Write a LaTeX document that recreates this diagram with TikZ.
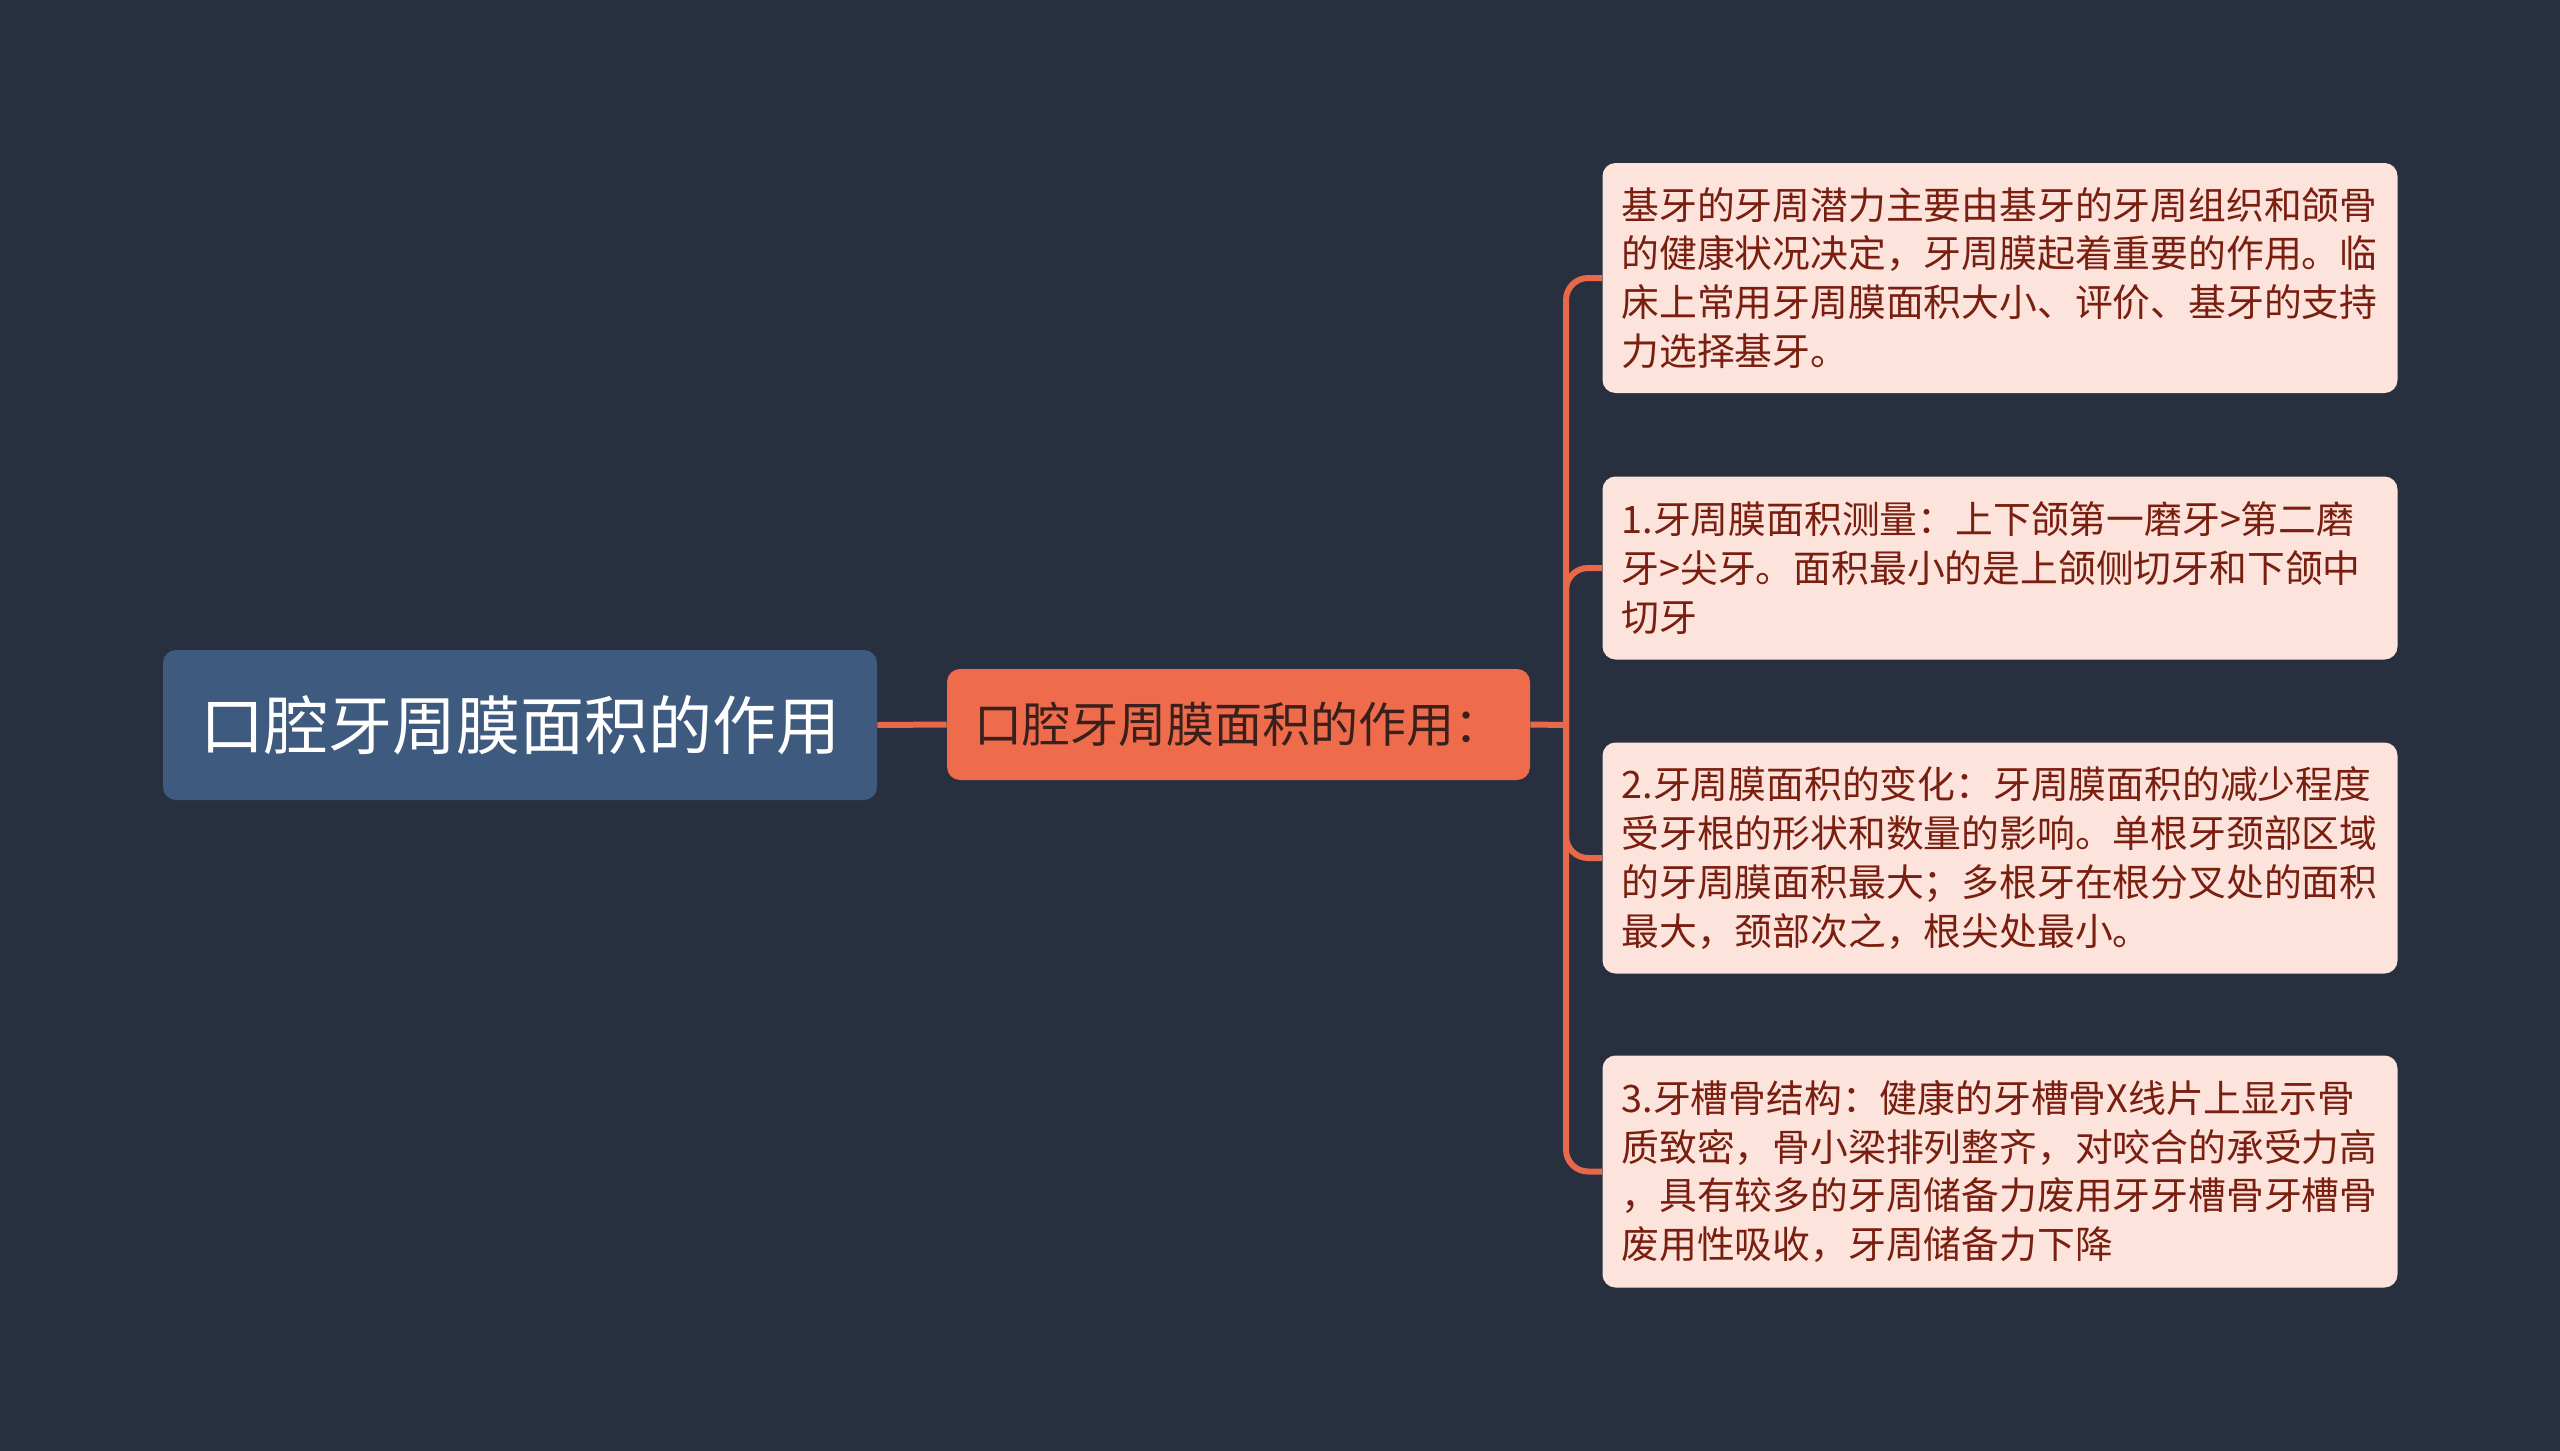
\documentclass[tikz,border=0pt]{standalone}
\usepackage{fontspec}
\setmainfont{Noto Sans CJK SC}
\definecolor{bgc}{HTML}{282F3E}
\definecolor{rootc}{HTML}{3E5A7F}
\definecolor{mainc}{HTML}{EE6B4C}
\definecolor{mainTxt}{HTML}{3A201B}
\definecolor{leafc}{HTML}{FCE3DC}
\definecolor{leafTxt}{HTML}{7A1F0F}
\definecolor{linec}{HTML}{E8694A}
\tikzset{
  conn/.style={draw=linec, line width=3pt, rounded corners=11pt},
  rootbox/.style={fill=rootc, rounded corners=6.5pt, minimum width=357pt, minimum height=75pt, inner sep=0pt, text=white, font=\fontsize{32pt}{38pt}\selectfont},
  mainbox/.style={fill=mainc, rounded corners=6.5pt, minimum width=291.5pt, minimum height=55.5pt, inner sep=0pt, text=mainTxt, font=\fontsize{24pt}{30pt}\selectfont},
  leafbox/.style={fill=leafc, rounded corners=6.5pt, minimum width=397.5pt, inner xsep=9.5pt, inner ysep=0pt, text width=378.5pt, align=left, text=leafTxt, font=\fontsize{18.9pt}{24.4pt}\selectfont},
}
\begin{document}
\begin{tikzpicture}[x=0.5pt,y=-0.5pt]
\fill[bgc] (0,0) rectangle (2560,1451);
\useasboundingbox (0,0) rectangle (2560,1451);

\coordinate (trunk) at (1566,725);

\node[rootbox] (root) at (520,725) {口腔牙周膜面积的作用};
\node[mainbox] (main) at (1238.5,724.5) {口腔牙周膜面积的作用：};

\node[leafbox, minimum height=115pt] (l1) at (2000,278) {基牙的牙周潜力主要由基牙的牙周组织和颌骨\\的健康状况决定，牙周膜起着重要的作用。临\\床上常用牙周膜面积大小、评价、基牙的支持\\力选择基牙。};
\node[leafbox, minimum height=91.5pt] (l2) at (2000,568) {1.牙周膜面积测量：上下颌第一磨牙>第二磨\\牙>尖牙。面积最小的是上颌侧切牙和下颌中\\切牙};
\node[leafbox, minimum height=115.5pt] (l3) at (2000,858) {2.牙周膜面积的变化：牙周膜面积的减少程度\\受牙根的形状和数量的影响。单根牙颈部区域\\的牙周膜面积最大；多根牙在根分叉处的面积\\最大，颈部次之，根尖处最小。};
\node[leafbox, minimum height=116pt] (l4) at (2000,1171.5) {3.牙槽骨结构：健康的牙槽骨X线片上显示骨\\质致密，骨小梁排列整齐，对咬合的承受力高\\，具有较多的牙周储备力废用牙牙槽骨牙槽骨\\废用性吸收，牙周储备力下降};

\draw[conn] (root.east) -- (main.west);
\draw[conn] (main.east) -- (trunk);
\foreach \l in {l1,l2,l3,l4}{
  \draw[conn] (trunk) |- (\l.west);
}
\end{tikzpicture}
\end{document}
